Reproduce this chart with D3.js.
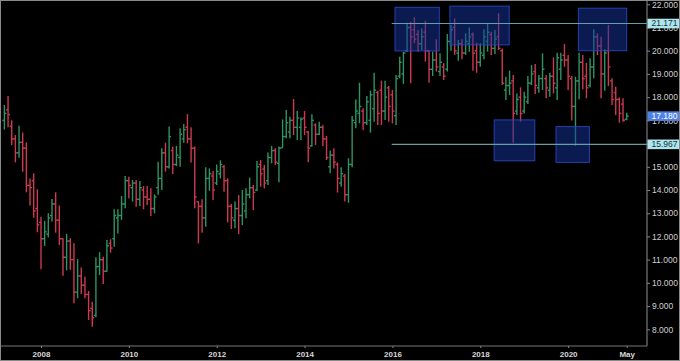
<!DOCTYPE html>
<html><head><meta charset="utf-8">
<script src="https://cdn.jsdelivr.net/npm/d3@7"></script>
<style>html,body{margin:0;padding:0;background:#000;}svg{display:block;}</style>
</head><body>
<svg id="c" width="680" height="361"></svg>
<script>
// Monthly OHLC, Mar 2007 .. May 2021 (171 bars)
const openV = [17.0,17.45,16.75,16.2,15.6,16.05,15.8,14.2,14.4,13.2,12.6,11.9,12.1,12.9,13.4,12.7,11.9,11.1,11.8,11.0,9.6,10.3,9.9,9.5,8.9,8.6,10.7,11.0,10.5,11.7,
11.9,12.8,12.9,13.4,14.4,14.1,14.3,13.6,14.0,13.7,13.6,13.2,14.1,14.5,15.6,15.0,15.7,15.1,15.4,16.2,16.7,16.2,15.8,13.5,13.3,12.8,14.5,14.6,14.3,14.7,
15.0,14.4,13.3,12.7,13.2,12.9,13.1,13.8,14.1,14.0,15.1,14.9,14.4,15.4,15.7,15.15,15.82,16.3,16.5,17.0,16.7,16.7,17.1,16.5,15.9,16.8,16.4,16.7,16.2,15.0,
15.5,15.1,14.3,14.6,13.8,15.1,16.9,17.3,17.4,16.9,17.0,17.5,18.2,18.3,17.4,18.4,18.1,17.2,18.9,19.0,20.0,21.0,20.9,20.7,20.3,20.8,20.0,19.2,19.6,19.1,
19.3,19.2,20.4,21.0,19.9,20.3,19.9,20.3,20.7,20.0,19.5,19.8,20.4,20.7,20.1,20.6,20.0,18.3,18.5,18.7,17.4,18.0,17.4,17.8,18.6,19.1,18.4,18.8,18.8,18.3,
18.9,18.4,19.2,19.8,19.6,18.8,17.6,18.7,19.5,18.9,18.5,19.3,20.6,20.2,19.0,20.0,18.7,18.2,17.9,17.7,17.05];
const highV = [17.66,18.05,17.0,16.37,16.77,16.48,16.05,14.5,14.72,14.03,12.85,12.67,13.0,13.61,13.9,13.33,11.92,12.11,11.92,11.71,11.02,10.66,10.27,9.65,9.19,11.1,11.32,11.12,11.85,11.88,
13.17,13.17,13.74,14.6,14.57,14.43,14.43,14.39,14.17,14.17,14.07,13.81,15.22,15.8,16.04,16.73,15.87,15.9,16.66,16.84,17.27,16.7,15.87,13.5,13.6,14.98,14.93,14.82,15.1,15.28,
15.08,14.5,13.4,13.5,13.78,14.0,14.07,14.53,14.22,15.25,15.29,15.08,15.62,15.9,15.8,15.87,17.04,17.45,17.16,17.92,17.4,17.12,17.4,16.54,17.26,16.87,16.94,16.8,16.33,15.7,
15.8,15.18,14.98,14.69,15.37,17.19,17.9,18.62,17.52,18.05,18.28,19.05,18.28,18.71,18.71,18.48,18.31,18.95,19.74,19.96,21.2,21.25,21.44,20.89,20.96,21.29,20.03,19.96,20.49,19.89,
19.46,20.72,21.11,21.39,20.46,20.49,20.75,21.0,20.78,20.35,20.32,20.92,21.15,20.82,20.89,21.61,20.1,18.88,19.14,18.95,18.16,18.42,18.23,18.91,19.38,19.43,18.95,19.89,18.95,19.05,
19.71,19.91,19.91,20.29,19.81,18.91,18.88,19.91,19.81,19.48,19.67,20.92,20.75,20.6,20.06,21.11,18.81,18.45,17.99,17.95,17.33];
const lowV = [16.6,16.7,15.94,15.19,15.39,14.79,13.9,13.33,12.81,12.18,10.59,11.59,11.96,12.64,12.16,11.63,10.31,10.54,10.56,9.12,9.34,9.52,9.34,8.4,8.11,8.52,10.34,9.95,10.48,11.3,
11.56,12.13,12.71,13.21,13.64,13.5,13.28,13.31,13.17,13.35,12.88,13.0,13.8,14.0,14.79,14.93,14.69,15.03,15.0,16.04,16.01,15.18,13.21,11.7,12.16,12.42,13.97,13.57,14.22,14.5,
13.93,12.61,12.32,12.35,12.11,12.49,12.78,13.64,13.14,13.96,14.14,14.07,14.22,15.15,15.08,14.33,15.82,16.23,16.23,16.37,16.15,16.15,16.37,15.19,15.87,15.94,16.37,15.9,15.29,14.72,
14.93,13.89,14.14,13.5,13.45,14.98,16.66,16.87,16.58,16.8,16.47,16.94,16.8,16.8,17.01,16.94,16.87,16.8,18.81,18.57,19.96,18.6,20.32,19.96,20.03,19.53,18.62,18.91,19.1,18.91,
18.74,19.1,20.0,19.82,19.57,19.63,19.82,19.96,19.14,19.05,19.31,19.63,19.96,19.82,19.86,20.03,18.52,17.88,18.09,16.04,17.23,16.94,17.3,17.7,18.52,18.13,18.19,18.31,17.95,18.02,
18.16,17.88,18.74,19.31,18.31,16.99,15.9,17.91,18.34,17.95,18.42,18.81,19.81,17.95,18.28,18.48,17.66,17.23,16.9,16.94,17.0];
const closeV = [17.3,17.25,16.2,15.6,16.05,15.8,14.2,14.1,13.1,12.5,11.9,12.2,12.8,13.4,12.7,11.9,11.1,11.8,11.0,9.6,10.3,9.9,9.5,8.8,8.5,10.7,11.0,10.5,11.6,11.5,
12.9,12.9,13.4,14.4,14.2,14.3,13.6,14.1,13.7,13.6,13.2,13.7,14.5,15.6,15.0,16.3,15.1,15.5,16.4,16.6,16.2,15.8,13.7,13.3,12.8,14.5,14.7,14.0,14.8,15.1,
14.4,13.3,12.8,13.2,12.9,13.4,13.8,14.1,13.9,15.0,14.7,14.3,15.4,15.7,15.2,15.8,16.3,16.9,17.0,16.7,17.1,17.05,16.7,15.8,17.0,16.4,16.7,16.2,15.4,15.5,
15.2,14.5,14.7,13.8,15.1,17.0,17.4,17.6,16.9,17.8,18.1,18.3,17.3,17.4,18.0,17.6,17.4,18.8,19.5,19.9,21.0,20.6,20.5,20.3,20.6,20.0,19.2,19.6,19.3,19.5,
18.9,20.4,20.9,20.0,20.3,19.9,20.4,20.6,19.9,19.5,19.9,20.6,20.8,20.1,20.5,20.1,18.6,18.5,18.6,17.3,17.9,17.3,18.0,18.6,19.0,18.5,18.8,19.2,18.4,18.9,
18.6,19.7,19.6,19.6,18.9,17.6,18.7,19.5,18.8,18.4,19.3,20.6,20.2,19.0,19.9,19.3,17.9,17.9,17.3,17.0,17.18];

const xTickIdx = [10,34,58,82,106,130,154,170];
const xTickLabels = ["2008","2010","2012","2014","2016","2018","2020","May"];
const yTicks = [8,9,10,11,12,13,14,15,16,17,18,19,20,21,22];

// annotations (bar index, value)
const boxes = [
  {i0:106.7,i1:118.8,v0:21.87,v1:19.99},
  {i0:121.7,i1:137.9,v0:21.92,v1:20.25},
  {i0:156.8,i1:170.0,v0:21.83,v1:20.0},
  {i0:133.8,i1:144.9,v0:17.02,v1:15.26},
  {i0:150.7,i1:159.8,v0:16.73,v1:15.19}
];
const levels = [21.171, 15.967];
const levelStart = 105.8;
const lastPrice = 17.180;

const svg = d3.select("#c");
const W = 680, H = 361, axisX = 647, axisY = 346;
svg.append("rect").attr("width",W).attr("height",H).attr("fill","#000");

const x = d3.scaleLinear().domain([0,170]).range([4.4,626.7]);
const y = d3.scaleLinear().domain([8,20]).range([329.3,50.7]);

const bars = d3.range(openV.length).map(i=>({i,o:openV[i],h:highV[i],l:lowV[i],c:closeV[i]}));
const green = "#2f9464", red = "#cc3a50";
const g = svg.append("g");
const bg = g.selectAll("g.bar").data(bars).join("g")
  .attr("stroke", d=> d.c>=d.o ? green : red).attr("stroke-width",1.4);
bg.append("line").attr("x1",d=>x(d.i)).attr("x2",d=>x(d.i)).attr("y1",d=>y(d.h)).attr("y2",d=>y(d.l));
bg.append("line").attr("x1",d=>x(d.i)-2).attr("x2",d=>x(d.i)).attr("y1",d=>y(d.o)).attr("y2",d=>y(d.o));
bg.append("line").attr("x1",d=>x(d.i)).attr("x2",d=>x(d.i)+2).attr("y1",d=>y(d.c)).attr("y2",d=>y(d.c));

// boxes
svg.append("g").selectAll("rect").data(boxes).join("rect")
  .attr("x",d=>x(d.i0)).attr("width",d=>x(d.i1)-x(d.i0))
  .attr("y",d=>y(d.v0)).attr("height",d=>y(d.v1)-y(d.v0))
  .attr("fill","rgba(22,52,160,0.5)").attr("stroke","rgba(38,72,190,0.9)").attr("stroke-width",1);

// level lines
svg.append("g").selectAll("line").data(levels).join("line")
  .attr("x1",x(levelStart)).attr("x2",axisX).attr("y1",d=>y(d)).attr("y2",d=>y(d))
  .attr("stroke","#64a0a3").attr("stroke-width",1.2);

// y axis
const yAxis = d3.axisRight(y).tickValues(yTicks).tickFormat(d3.format(".3f")).tickSize(3).tickPadding(2);
const ya = svg.append("g").attr("transform",`translate(${axisX},0)`).call(yAxis);
ya.select(".domain").remove();
ya.selectAll(".tick line").attr("stroke","#888");
ya.selectAll(".tick text").attr("fill","#d0d0d0").attr("font-family","Liberation Sans, Arial, sans-serif").attr("font-size","8.5px");
svg.append("line").attr("x1",axisX).attr("x2",axisX).attr("y1",0).attr("y2",axisY).attr("stroke","#777").attr("stroke-width",1.2);

// x axis
const xAxis = d3.axisBottom(x).tickValues(xTickIdx).tickFormat((d,k)=>xTickLabels[k]).tickSize(2).tickPadding(3);
const xa = svg.append("g").attr("transform",`translate(0,${axisY})`).call(xAxis);
xa.select(".domain").remove();
xa.selectAll(".tick line").attr("stroke","#888");
xa.selectAll(".tick text").attr("fill","#d8d8d8").attr("font-family","Liberation Sans, Arial, sans-serif").attr("font-size","8px").attr("font-weight","bold");
svg.append("line").attr("x1",0).attr("x2",axisX).attr("y1",axisY).attr("y2",axisY).attr("stroke","#777").attr("stroke-width",1.2);

// price label boxes
const tags = [
  {v:levels[0], fill:"#aee6ee", col:"#15303a"},
  {v:lastPrice, fill:"#4f80e6", col:"#ffffff"},
  {v:levels[1], fill:"#aee6ee", col:"#15303a"}
];
const tg = svg.append("g").selectAll("g").data(tags).join("g").attr("transform",d=>`translate(${axisX},${y(d.v)})`);
tg.append("rect").attr("x",0.5).attr("y",-4.8).attr("width",W-axisX).attr("height",9.6).attr("fill",d=>d.fill);
tg.append("text").attr("x",4.5).attr("dy","0.34em").attr("fill",d=>d.col)
  .attr("font-family","Liberation Sans, Arial, sans-serif").attr("font-size","8.5px").text(d=>d3.format(".3f")(d.v));

// outer frame
svg.append("rect").attr("x",0.5).attr("y",0.5).attr("width",W-1).attr("height",H-1).attr("fill","none").attr("stroke","#8a8a8a").attr("stroke-width",1);
</script>
</body></html>
